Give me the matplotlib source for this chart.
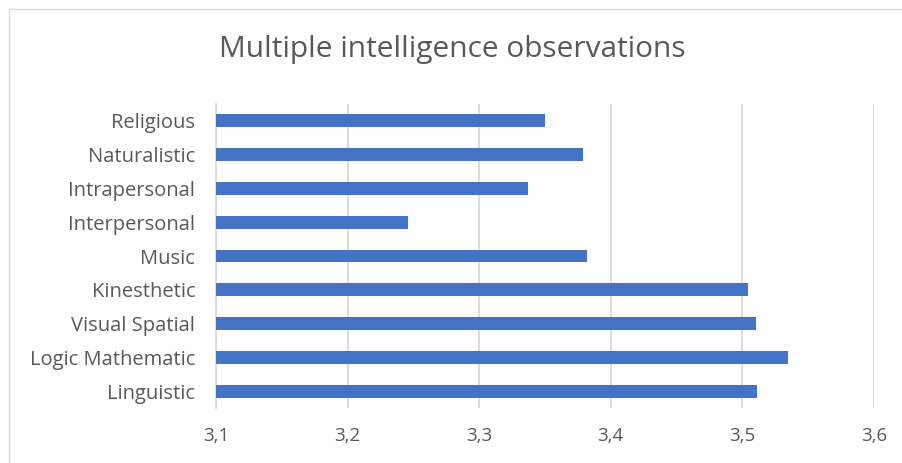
import matplotlib.pyplot as plt
from matplotlib.patches import Rectangle

# donnees (de haut en bas dans l'image)
categories = ['Linguistic', 'Logic Mathematic', 'Visual Spatial', 'Kinesthetic', 'Music',
              'Interpersonal', 'Intrapersonal', 'Naturalistic', 'Religious']
values = [3.511, 3.535, 3.510, 3.504, 3.382, 3.246, 3.337, 3.379, 3.350]
xticks = [3.1, 3.2, 3.3, 3.4, 3.5, 3.6]
xlabels = ['3,1', '3,2', '3,3', '3,4', '3,5', '3,6']

plt.rcParams['font.family'] = ['Open Sans', 'DejaVu Sans']
txt = '#595959'

fig = plt.figure(figsize=(9.03, 4.63), dpi=100)
ax = fig.add_axes([216/903, 55/463, 658/903, 304/463])

pos = list(range(len(categories)))
ax.barh(pos, [v - 3.1 for v in values], left=3.1, height=0.38, color='#4472C4', zorder=3)

ax.set_xlim(3.1, 3.6)
ax.set_ylim(-0.5, len(categories) - 0.5)
ax.set_xticks(xticks)
ax.set_xticklabels(xlabels, color=txt, fontsize=13.5)
ax.set_yticks(pos)
ax.set_yticklabels(categories, color=txt, fontsize=14.5)
ax.tick_params(length=0)
ax.tick_params(axis='x', pad=14)
ax.tick_params(axis='y', pad=15)
ax.grid(axis='x', color='#D9D9D9', linewidth=1.3, zorder=0)
for s in ['top', 'right', 'bottom']:
    ax.spines[s].set_visible(False)
ax.spines['left'].set_color('#D9D9D9')
ax.spines['left'].set_linewidth(1.3)

fig.text(452/903, 1 - 50/463, 'Multiple intelligence observations', ha='center', va='center',
         fontsize=21.5, color=txt)

# cadre du graphique
fig.patches.append(Rectangle((9/903, -0.1), 1.2, 1 - 9/463 + 0.1, transform=fig.transFigure,
                             fill=False, edgecolor='#D9D9D9', linewidth=1))

fig.savefig('out.png', dpi=100)
